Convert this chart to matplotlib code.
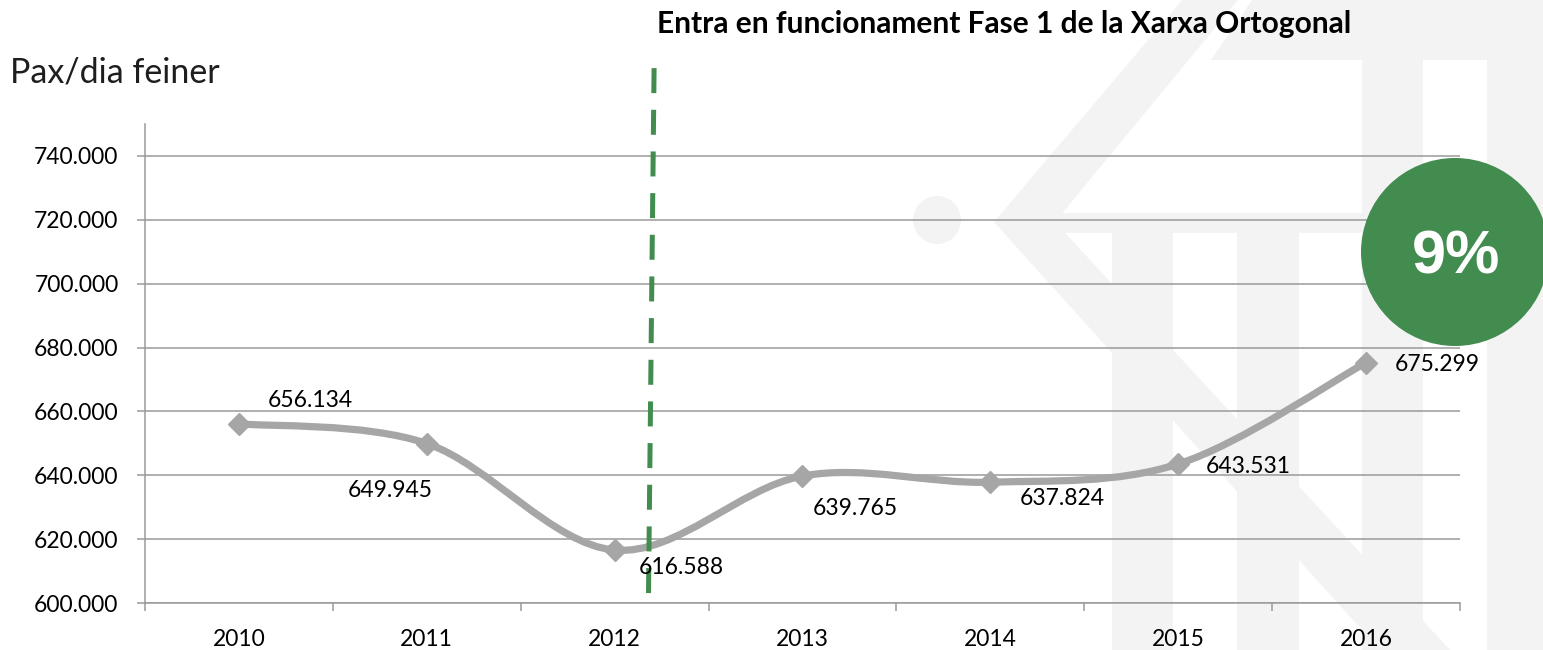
import matplotlib
matplotlib.use("Agg")
import matplotlib.pyplot as plt
from matplotlib.path import Path
from matplotlib.patches import PathPatch, Polygon, Circle
from matplotlib.ticker import FuncFormatter, FixedLocator
import numpy as np

# ---------------- data ----------------
years = ["2010", "2011", "2012", "2013", "2014", "2015", "2016"]
passengers = [656134, 649945, 616588, 639765, 637824, 643531, 675299]
y_ticks = [600000, 620000, 640000, 660000, 680000, 700000, 720000, 740000]
title_text = "Entra en funcionament Fase 1 de la Xarxa Ortogonal"
ylabel_text = "Pax/dia feiner"
badge_text = "9%"
event_x = 2.2  # position (in category units) of the "Fase 1" marker line

# label offsets (pixels) relative to each point, and alignment
label_offsets = [(29, 23, "left"), (-37, -47, "center"), (24, -17, "left"),
                 (10, -32, "left"), (29, -16, "left"), (28, -3, "left"),
                 (29, -2, "left")]

W, H, DPI = 1543, 650, 100
plt.rcParams["font.family"] = ["Lato", "DejaVu Sans"]
plt.rcParams["lines.scale_dashes"] = False

fig = plt.figure(figsize=(W / DPI, H / DPI), dpi=DPI)
fig.patch.set_facecolor("white")

# ------------- background watermark (decorative) -------------
bg = fig.add_axes([0, 0, 1, 1], zorder=0)
bg.set_xlim(0, W)
bg.set_ylim(H, 0)
bg.axis("off")
wm = "#f3f3f3"
shapes = [
    [(1182, 0), (1238, 0), (1055, 222), (1450, 650), (1380, 650), (994, 222)],
    [(1252, 0), (W, 0), (W, 60), (1211, 60)],
    [(1045, 213), (1362, 213), (1362, 233), (1045, 233)],
    [(1112, 233), (1173, 233), (1173, H), (1112, H)],
    [(1237, 233), (1299, 233), (1299, H), (1237, H)],
    [(1362, 60), (1423, 60), (1423, H), (1362, H)],
    [(1487, 60), (W, 60), (W, H), (1487, H)],
]
for s in shapes:
    bg.add_patch(Polygon(s, closed=True, facecolor=wm, edgecolor="none"))
bg.add_patch(Circle((937, 220), 24, facecolor=wm, edgecolor="none"))

# ---------------- main axes ----------------
left, right, bottom, top = 145, 1460, 603, 124
ax = fig.add_axes([left / W, 1 - bottom / H, (right - left) / W, (bottom - top) / H], zorder=1)
ax.set_facecolor("none")
n = len(years)
x = np.arange(n)
ax.set_xlim(-0.5, n - 0.5)
ax.set_ylim(600000, 750000)

grid_c = "#9a9a9a"
ax.set_yticks(y_ticks)
ax.yaxis.set_major_formatter(FuncFormatter(lambda v, p: f"{int(v):,}".replace(",", ".")))
ax.grid(axis="y", color=grid_c, linewidth=1.1, zorder=0)
ax.set_axisbelow(True)
for sp in ["top", "right"]:
    ax.spines[sp].set_visible(False)
for sp in ["left", "bottom"]:
    ax.spines[sp].set_color(grid_c)
    ax.spines[sp].set_linewidth(1.1)

ax.set_xticks(x)
ax.set_xticklabels(years)
ax.xaxis.set_minor_locator(FixedLocator(np.arange(n + 1) - 0.5))
ax.tick_params(axis="x", which="major", length=0, pad=19, labelsize=16.5)
ax.tick_params(axis="x", which="minor", length=6, width=1.1, color=grid_c, direction="out")
ax.tick_params(axis="y", which="major", length=6, width=1.1, color=grid_c, pad=13, labelsize=16.5)

# smooth (Excel-like) curve through points using cubic Bezier segments
pts = np.column_stack([x, passengers]).astype(float)
verts = [tuple(pts[0])]
codes = [Path.MOVETO]
for i in range(n - 1):
    p0 = pts[i - 1] if i > 0 else pts[i]
    p1, p2 = pts[i], pts[i + 1]
    p3 = pts[i + 2] if i + 2 < n else pts[i + 1]
    c1 = p1 + (p2 - p0) / 6.0
    c2 = p2 - (p3 - p1) / 6.0
    verts += [tuple(c1), tuple(c2), tuple(p2)]
    codes += [Path.CURVE4] * 3
line_c = "#a6a6a6"
ax.add_patch(PathPatch(Path(verts, codes), facecolor="none", edgecolor=line_c,
                       linewidth=5.2, capstyle="round", joinstyle="round", zorder=3))
ax.plot(x, passengers, linestyle="none", marker="D", markersize=11.5,
        color=line_c, zorder=4)

for xi, v, (dx, dy, ha) in zip(x, passengers, label_offsets):
    ax.annotate(f"{v:,}".replace(",", "."), (xi, v), xytext=(dx, dy),
                textcoords="offset pixels", ha=ha, va="center",
                fontsize=16.5, color="black", zorder=6)

# event marker line (slightly slanted dashed green line)
green = "#428c4f"
ax.plot([event_x + 0.01, event_x - 0.02], [767500, 601500], color=green,
        linewidth=3.6, linestyle=(0, (18, 12)), clip_on=False, zorder=5)

# ---------------- overlay texts / badge ----------------
fg = fig.add_axes([0, 0, 1, 1], zorder=2)
fg.set_xlim(0, W)
fg.set_ylim(H, 0)
fg.axis("off")
fg.set_facecolor("none")
fg.add_patch(Circle((1455, 252), 94, facecolor=green, edgecolor="none"))
fg.text(1456, 258, badge_text, ha="center", va="center", color="white",
        fontsize=44, fontweight="bold", family=["Liberation Sans", "DejaVu Sans"])
fg.text(1004, 24, title_text, ha="center", va="center", fontsize=21.5,
        fontweight="bold", color="black")
fg.text(10, 73, ylabel_text, ha="left", va="center", fontsize=24.5,
        fontweight="normal", color="#1e1e1e")

fig.savefig("out.png", dpi=DPI, facecolor="white")
